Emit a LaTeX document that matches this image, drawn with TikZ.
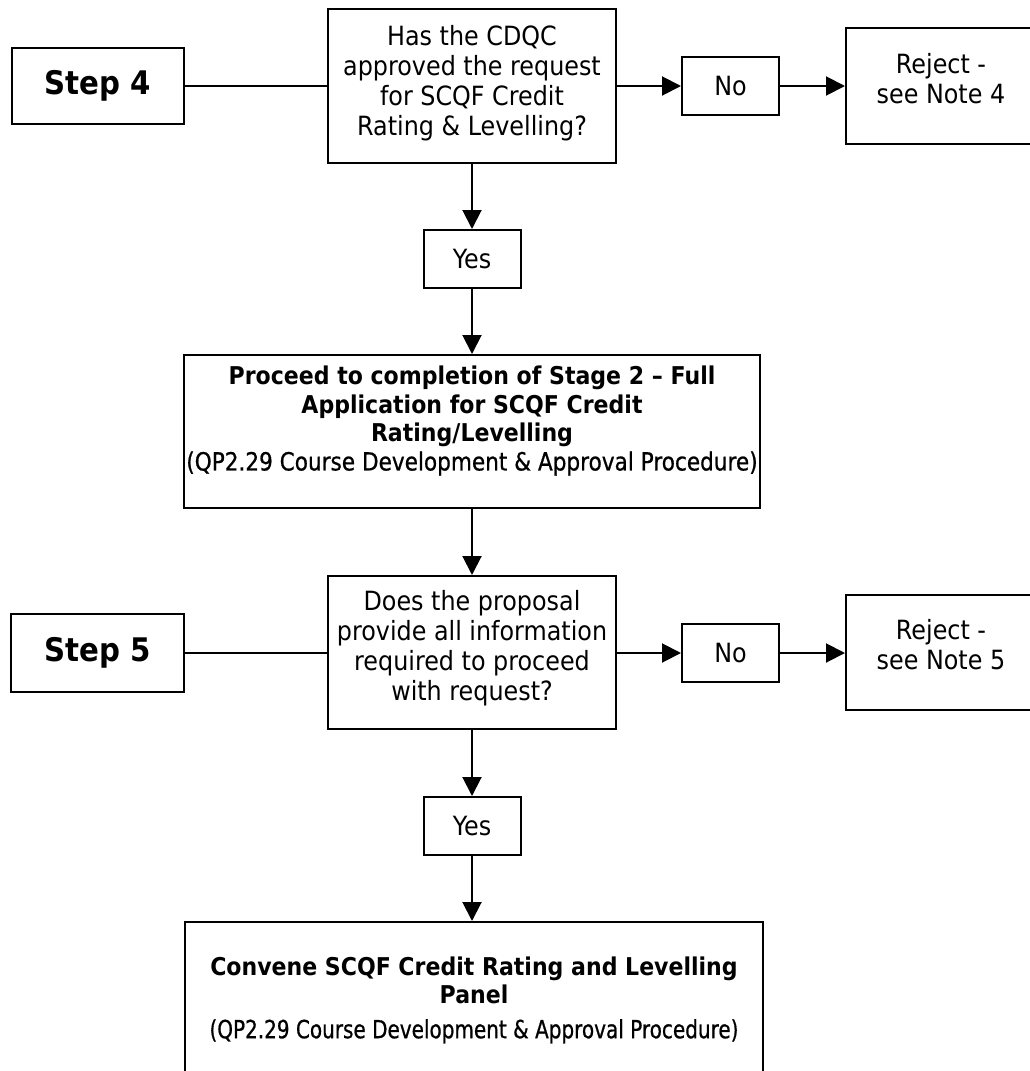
\documentclass[tikz,border=0pt]{standalone}
\usepackage{fontspec}
\usepackage{graphicx}
\setmainfont{DejaVu Sans}[FakeStretch=0.9]
\newfontfamily\qpfont{DejaVu Sans}[FakeStretch=0.8, FakeBold=0.7]
\usetikzlibrary{arrows.meta}
\newcommand{\regf}{\fontsize{26.5}{30}\selectfont}
\newcommand{\boldf}{\fontsize{24.5}{28.5}\selectfont\bfseries}
\newcommand{\stepf}{\fontsize{32.5}{36}\selectfont\bfseries}
\newcommand{\qpline}[1]{\scalebox{#1}[1]{\qpfont\mdseries\fontsize{25}{28.5}\selectfont (QP2.29 Course Development \& Approval Procedure)}}
\begin{document}
\begin{tikzpicture}[x=1pt,y=-1pt,
  box/.style={draw, line width=2pt, inner sep=0pt, align=center},
  conn/.style={line width=2pt},
  arr/.style={line width=2pt, -{Triangle[length=19pt,width=19pt]}},
  txt/.style={align=center, inner sep=0pt}]
\useasboundingbox (0,0) rectangle (1030,1071);
\clip (0,0) rectangle (1030,1071);
\fill[white] (0,0) rectangle (1030,1071);

% Step 4 row
\node[box, minimum width=172pt, minimum height=76pt, font=\stepf] (step4) at (98,86) {Step 4};
\node[box, minimum width=288pt, minimum height=154pt] (q1) at (472,86) {};
\node[txt, font=\regf] (q1t) at (472,83) {Has the CDQC\\approved the request\\for SCQF Credit\\Rating \& Levelling?};
\node[box, minimum width=97pt, minimum height=58pt, font=\regf] (no1) at (730.5,86) {No};
\node[box, minimum width=190pt, minimum height=116pt] (rej1) at (941,86) {};
\node[txt, font=\regf] (rej1t) at (941,79) {Reject -\\see Note 4};
\node[box, minimum width=97pt, minimum height=58pt, font=\regf] (yes1) at (472,259) {Yes};

% Proceed box
\node[box, minimum width=576pt, minimum height=153pt] (proc) at (472,431.5) {};
\node[txt, font=\boldf] (proct) at (472,421) {Proceed to completion of Stage 2 – Full\\Application for SCQF Credit\\Rating/Levelling\\\qpline{1.08}};

% Step 5 row
\node[box, minimum width=173pt, minimum height=78pt, font=\stepf] (step5) at (97.5,653) {Step 5};
\node[box, minimum width=288pt, minimum height=153pt] (q2) at (472,652.5) {};
\node[txt, font=\regf] (q2t) at (472,648) {Does the proposal\\provide all information\\required to proceed\\with request?};
\node[box, minimum width=97pt, minimum height=58pt, font=\regf] (no2) at (730.5,653) {No};
\node[box, minimum width=190pt, minimum height=115pt] (rej2) at (941,652.5) {};
\node[txt, font=\regf] (rej2t) at (941,645) {Reject -\\see Note 5};
\node[box, minimum width=97pt, minimum height=58pt, font=\regf] (yes2) at (472,826) {Yes};

% Convene box
\node[box, minimum width=578pt, minimum height=180pt] (conv) at (474,1012) {};
\node[txt, font=\boldf] (convt) at (474,1000) {Convene SCQF Credit Rating and Levelling\\Panel\\[6pt]\qpline{1.0}};

% connectors
\draw[conn] (step4.east) -- (step4.east -| q1.west);
\draw[arr] (q1.east) -- (no1.west);
\draw[arr] (no1.east) -- (rej1.west);
\draw[arr] (q1.south) -- (yes1.north);
\draw[arr] (yes1.south) -- (proc.north);
\draw[arr] (proc.south) -- (q2.north);
\draw[conn] (step5.east) -- (step5.east -| q2.west);
\draw[arr] (no2.west -| q2.east) -- (no2.west);
\draw[arr] (no2.east) -- (no2.east -| rej2.west);
\draw[arr] (q2.south) -- (yes2.north);
\draw[arr] (yes2.south) -- (yes2.south |- conv.north);
\end{tikzpicture}
\end{document}
